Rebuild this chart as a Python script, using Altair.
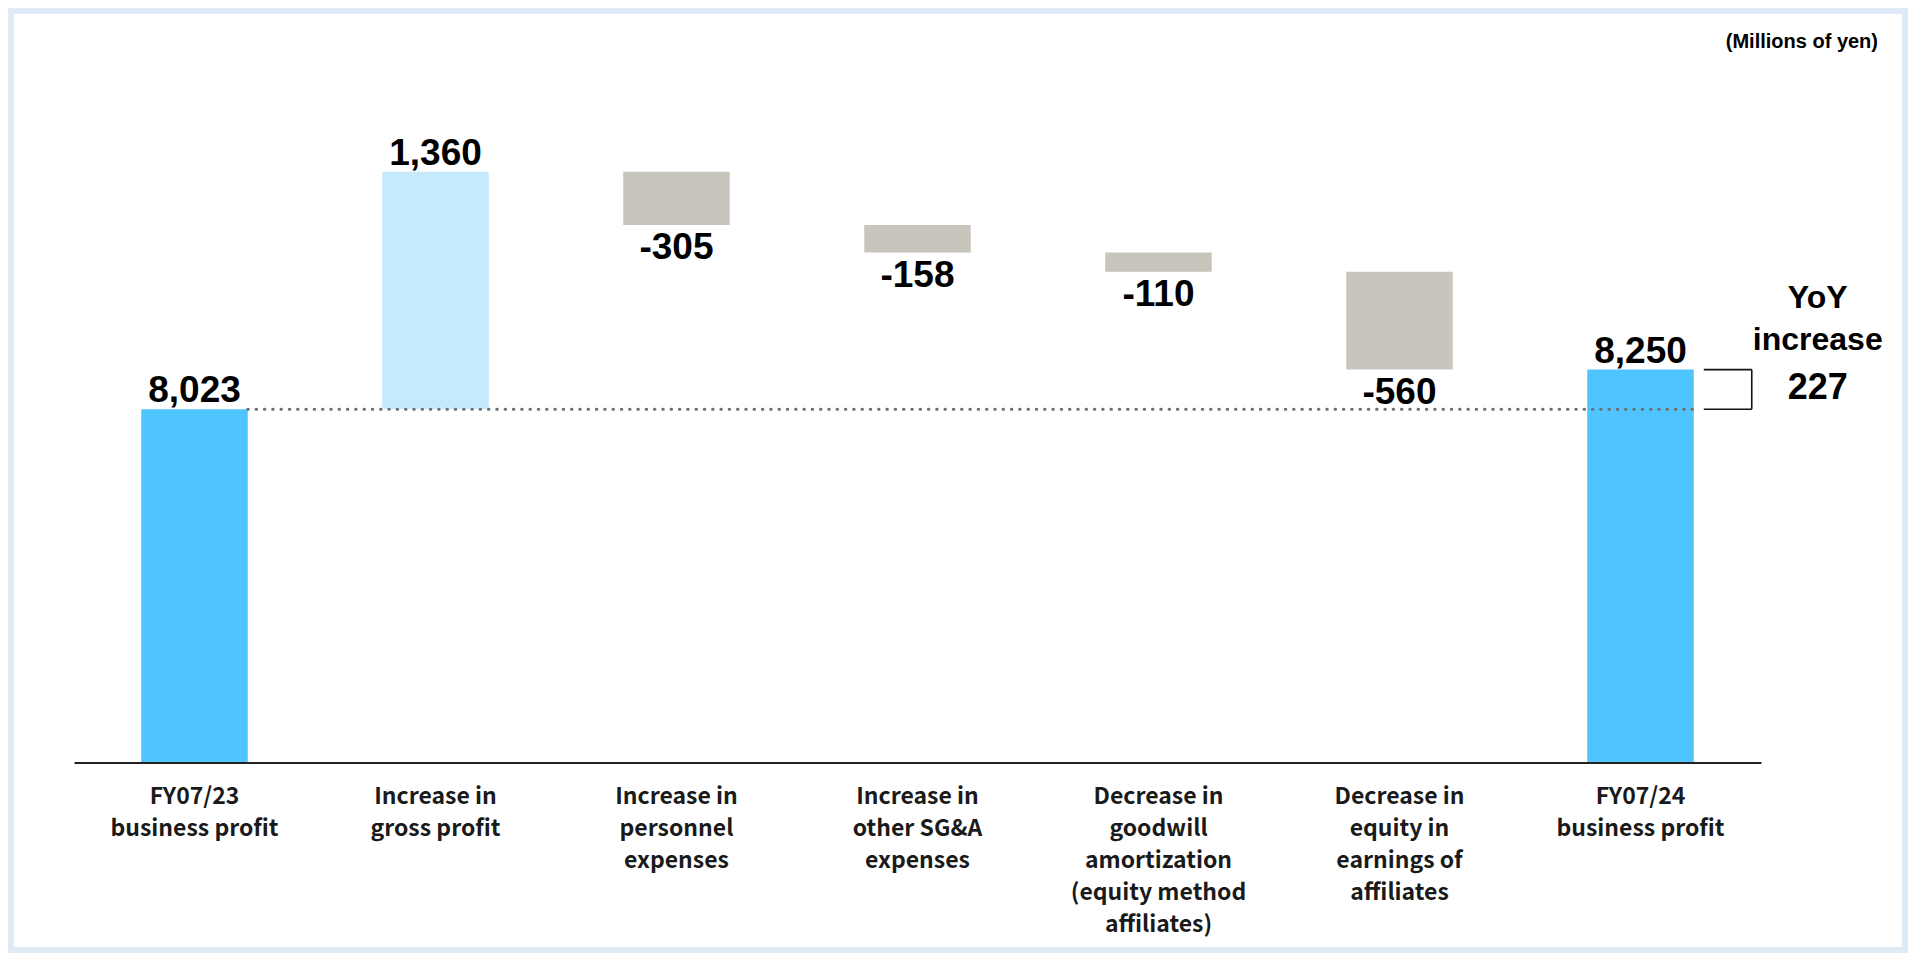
import altair as alt
import pandas as pd

# ---- data ----
categories = [
    "FY07/23|business profit",
    "Increase in|gross profit",
    "Increase in|personnel|expenses",
    "Increase in|other SG&A|expenses",
    "Decrease in|goodwill|amortization|(equity method|affiliates)",
    "Decrease in|equity in|earnings of|affiliates",
    "FY07/24|business profit",
]
kinds = ["total", "increase", "decrease", "decrease", "decrease", "decrease", "total"]
values = [8023, 1360, -305, -158, -110, -560, 8250]
unit_label = "(Millions of yen)"
yoy_lines = ["YoY", "increase"]

Y_FLOOR = 6000
Y_TOP = 10000

rows = []
running = 0
for cat, kind, v in zip(categories, kinds, values):
    if kind == "total":
        lo, hi = Y_FLOOR, v
        running = v
    else:
        start, end = running, running + v
        lo, hi = min(start, end), max(start, end)
        running = end
    rows.append({
        "cat": cat, "kind": kind, "lo": lo, "hi": hi,
        "label": f"{v:,}", "label_y": hi if v > 0 else lo,
        "pos": v > 0,
    })
df = pd.DataFrame(rows)

yoy = values[-1] - values[0]

W, H = 1687, 698.5
PAD = {"left": 66, "top": 56, "right": 147, "bottom": 190.5}

xscale = alt.Scale(domain=categories, paddingInner=0.558, paddingOuter=0.279)
yscale = alt.Scale(domain=[Y_FLOOR, Y_TOP], nice=False, zero=False)

NUM_FONT = "Liberation Sans"

xaxis = alt.Axis(
    title=None, labelAngle=0, ticks=False, domain=True, domainColor="#222222",
    domainWidth=2, labelFont="Noto Sans CJK JP", labelFontWeight="bold",
    labelFontSize=23, labelLineHeight=32, labelPadding=23, labelColor="#1a1a1a",
    labelExpr="split(datum.value, '|')", labelLimit=400, labelOverlap=False,
    zindex=1,
)

# background panel (decoration)
frame = alt.Chart(pd.DataFrame({"a": [0]})).mark_rect(color="white").encode(
    x=alt.value(-PAD["left"] + 6), x2=alt.value(W + PAD["right"] - 6),
    y=alt.value(-PAD["top"] + 6), y2=alt.value(H + PAD["bottom"] - 6),
)

bars = alt.Chart(df).mark_bar().encode(
    x=alt.X("cat:N", scale=xscale, axis=xaxis, sort=None),
    y=alt.Y("hi:Q", scale=yscale, axis=None),
    y2="lo:Q",
    color=alt.Color("kind:N", legend=None, scale=alt.Scale(
        domain=["total", "increase", "decrease"],
        range=["#50c4fe", "#c6eafd", "#c8c5bd"])),
)

dot_df = pd.DataFrame({"xa": [categories[0]], "xb": [categories[-1]], "y": [values[0]]})
dotted = alt.Chart(dot_df).mark_rule(
    color="#6e6e6e", strokeWidth=3, strokeDash=[0.5, 7.8], strokeCap="round"
).encode(
    x=alt.X("xa:N", bandPosition=1, scale=xscale, sort=None),
    x2=alt.X2("xb:N", bandPosition=1),
    y=alt.Y("y:Q", scale=yscale),
)

br_df = pd.DataFrame({"xa": [categories[-1]] * 2, "y": [values[-1], values[0]]})
br_h = alt.Chart(br_df).mark_rule(color="#111111", strokeWidth=1.6, xOffset=10, x2Offset=58).encode(
    x=alt.X("xa:N", bandPosition=1, scale=xscale, sort=None),
    x2=alt.X2("xa:N", bandPosition=1),
    y=alt.Y("y:Q", scale=yscale),
)
brv_df = pd.DataFrame({"xa": [categories[-1]], "y": [values[-1]], "y2": [values[0]]})
br_v = alt.Chart(brv_df).mark_rule(color="#111111", strokeWidth=1.6, xOffset=58).encode(
    x=alt.X("xa:N", bandPosition=1, scale=xscale, sort=None),
    y=alt.Y("y:Q", scale=yscale),
    y2="y2:Q",
)

lab_common = dict(font=NUM_FONT, fontWeight="bold", fontSize=37, color="#000000")
lab_pos = alt.Chart(df).transform_filter("datum.pos").mark_text(
    baseline="bottom", dy=1, **lab_common
).encode(
    x=alt.X("cat:N", scale=xscale, sort=None),
    y=alt.Y("label_y:Q", scale=yscale),
    text="label:N",
)
lab_neg = alt.Chart(df).transform_filter("!datum.pos").mark_text(
    baseline="top", dy=5, **lab_common
).encode(
    x=alt.X("cat:N", scale=xscale, sort=None),
    y=alt.Y("label_y:Q", scale=yscale),
    text="label:N",
)

yoy_df = pd.DataFrame({"xa": [categories[-1]], "y": [(values[-1] + values[0]) / 2],
                       "l0": [yoy_lines[0]], "l1": [yoy_lines[1]], "l2": [f"{yoy:,}"]})
def yoy_text(field, dy, size):
    return alt.Chart(yoy_df).mark_text(
        font=NUM_FONT, fontWeight="bold", fontSize=size, color="#000000",
        align="center", baseline="middle", dx=124, dy=dy,
    ).encode(
        x=alt.X("xa:N", bandPosition=1, scale=xscale, sort=None),
        y=alt.Y("y:Q", scale=yscale),
        text=f"{field}:N",
    )

unit = alt.Chart(pd.DataFrame({"t": [unit_label]})).mark_text(
    font=NUM_FONT, fontWeight="bold", fontSize=20, color="#000000",
    align="right", baseline="middle",
).encode(x=alt.value(1804), y=alt.value(-22), text="t:N")

chart = alt.layer(
    frame, bars, dotted, br_h, br_v, lab_pos, lab_neg,
    yoy_text("l0", -91, 32), yoy_text("l1", -49, 32), yoy_text("l2", -1, 36),
    unit,
).properties(
    width=W, height=H, padding=PAD, autosize="none", background="#deebf7",
).configure_view(stroke=None)

chart.save("out.html", embed_options={"renderer": "svg", "actions": False})
